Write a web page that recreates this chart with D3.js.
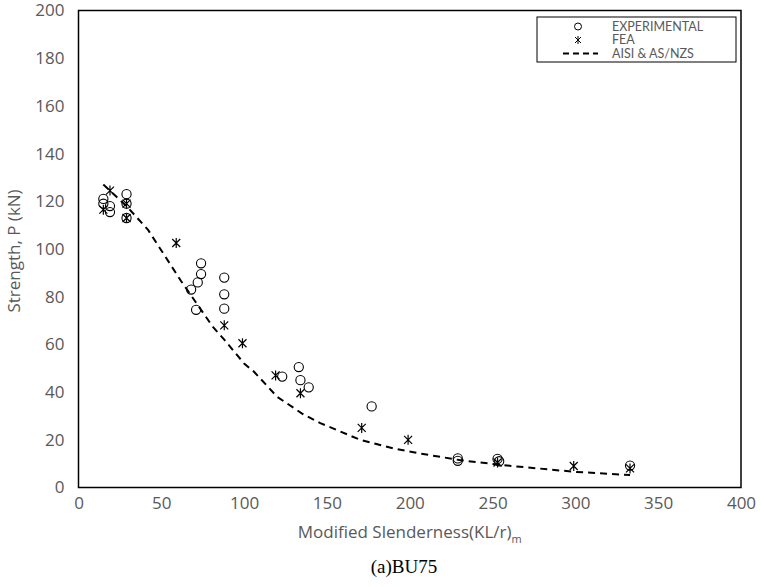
<!DOCTYPE html>
<html>
<head>
<meta charset="utf-8">
<script src="https://cdn.jsdelivr.net/npm/d3@7"></script>
<style>
  body { margin: 0; background: #fff; }
  text { font-family: "Open Sans", Lato, sans-serif; }
</style>
</head>
<body>
<script>
const width = 764
const height = 587

// data
const experimental = [
  [15, 121], [15, 119], [19, 118], [19, 115.5],
  [29, 123], [29, 119], [29, 113],
  [68, 83], [71, 74.5], [72, 86], [74, 89.5], [74, 94],
  [88, 88], [88, 81], [88, 75],
  [123, 46.5], [133, 50.5], [134, 45], [139, 42],
  [177, 34], [229, 12.2], [229, 11.2], [253, 12], [254, 11], [333, 9.2]
]
const fea = [
  [15, 116.5], [19, 124.5], [29, 119], [29, 113], [59, 102.5],
  [88, 68], [99, 60.5], [119, 47], [134, 39.5], [171, 25],
  [199, 20], [253, 10.5], [299, 9], [333, 8]
]
const aisi = [
  [15, 127], [29, 118], [42, 108], [62, 86.5], [81, 67.5], [88, 62],
  [100, 52], [106, 48.5], [120, 38], [135, 31], [146, 27], [170, 20],
  [190, 16.4], [206, 14.3], [230, 11.5], [256, 9.4], [299, 6.6], [333, 5.2]
]
const xTicks = [0, 50, 100, 150, 200, 250, 300, 350, 400]
const yTicks = [0, 20, 40, 60, 80, 100, 120, 140, 160, 180, 200]
const legendLabels = ['EXPERIMENTAL', 'FEA', 'AISI & AS/NZS']

const plotLeft = 78.5, plotRight = 741, plotTop = 10.5, plotBottom = 487.5
const grey = '#595959'

let svg = d3.select('body').append('svg')
    .attr('width', width)
    .attr('height', height)

let x = d3.scaleLinear().domain([0, 400]).range([plotLeft, plotRight])
let y = d3.scaleLinear().domain([0, 200]).range([plotBottom, plotTop])

// axes (labels only, excel style)
let xAxis = svg.append('g')
    .attr('transform', `translate(0,${plotBottom})`)
    .call(d3.axisBottom(x).tickValues(xTicks).tickSize(0).tickPadding(9))
xAxis.select('.domain').remove()
xAxis.selectAll('text').attr('fill', grey).style('font-size', '17px').style('font-family', '"Open Sans"')

let yAxis = svg.append('g')
    .attr('transform', `translate(${plotLeft},0)`)
    .call(d3.axisLeft(y).tickValues(yTicks).tickSize(0).tickPadding(14))
yAxis.select('.domain').remove()
yAxis.selectAll('text').attr('fill', grey).style('font-size', '17px').style('font-family', '"Open Sans"')

// frame
svg.append('rect')
    .attr('x', plotLeft).attr('y', plotTop)
    .attr('width', plotRight - plotLeft).attr('height', plotBottom - plotTop)
    .attr('fill', 'none').attr('stroke', 'black').attr('stroke-width', 1.5)

// AISI line
let line = d3.line().x(d => x(d[0])).y(d => y(d[1]))
svg.append('path')
    .attr('d', line(aisi))
    .attr('fill', 'none')
    .attr('stroke', 'black')
    .attr('stroke-width', 2)
    .attr('stroke-dasharray', '7,5')

// star marker
function starPath(cx, cy) {
    return `M${cx},${cy - 5}L${cx},${cy + 5}M${cx - 4},${cy - 4}L${cx + 4},${cy + 4}M${cx - 4},${cy + 4}L${cx + 4},${cy - 4}`
}

svg.append('g').selectAll('path')
    .data(fea)
    .join('path')
    .attr('d', d => starPath(x(d[0]), y(d[1])))
    .attr('stroke', 'black')
    .attr('stroke-width', 1.2)
    .attr('fill', 'none')

svg.append('g').selectAll('circle')
    .data(experimental)
    .join('circle')
    .attr('cx', d => x(d[0]))
    .attr('cy', d => y(d[1]))
    .attr('r', 4.6)
    .attr('fill', 'none')
    .attr('stroke', 'black')
    .attr('stroke-width', 1.1)

// legend
let legend = svg.append('g')
legend.append('rect')
    .attr('x', 537).attr('y', 17)
    .attr('width', 199).attr('height', 45)
    .attr('fill', 'white').attr('stroke', 'black').attr('stroke-width', 1)

legendLabels.forEach((label, i) => {
    let ly = 26.5 + i * 13.5
    legend.append('text')
        .attr('x', 612).attr('y', ly)
        .attr('dy', '0.35em')
        .attr('fill', grey)
        .style('font-size', '12.5px')
        .style('font-family', 'Lato')
        .text(label)
    if (i === 0) {
        legend.append('circle').attr('cx', 578).attr('cy', ly).attr('r', 3.5)
            .attr('fill', 'none').attr('stroke', 'black').attr('stroke-width', 1)
    } else if (i === 1) {
        legend.append('path')
            .attr('d', `M578,${ly - 4}L578,${ly + 4}M575,${ly - 3}L581,${ly + 3}M575,${ly + 3}L581,${ly - 3}`)
            .attr('stroke', 'black').attr('stroke-width', 1)
    } else {
        legend.append('line')
            .attr('x1', 563).attr('x2', 598).attr('y1', ly).attr('y2', ly)
            .attr('stroke', 'black').attr('stroke-width', 2).attr('stroke-dasharray', '6,4')
    }
})

// axis titles
svg.append('text')
    .attr('transform', `translate(14,${(plotTop + plotBottom) / 2 + 2}) rotate(-90)`)
    .attr('text-anchor', 'middle')
    .attr('dy', '0.35em')
    .attr('fill', grey)
    .style('font-size', '17px')
    .text('Strength, P (kN)')

let xt = svg.append('text')
    .attr('x', (plotLeft + plotRight) / 2)
    .attr('y', 538)
    .attr('text-anchor', 'middle')
    .attr('fill', grey)
    .style('font-size', '17px')
xt.append('tspan').text('Modified Slenderness(KL/r)')
xt.append('tspan').attr('dy', 5).style('font-size', '11px').text('m')

svg.append('text')
    .attr('x', 404)
    .attr('y', 573)
    .attr('text-anchor', 'middle')
    .attr('fill', 'black')
    .style('font-family', '"Liberation Serif", serif')
    .style('font-size', '19px')
    .text('(a)BU75')
</script>
</body>
</html>
